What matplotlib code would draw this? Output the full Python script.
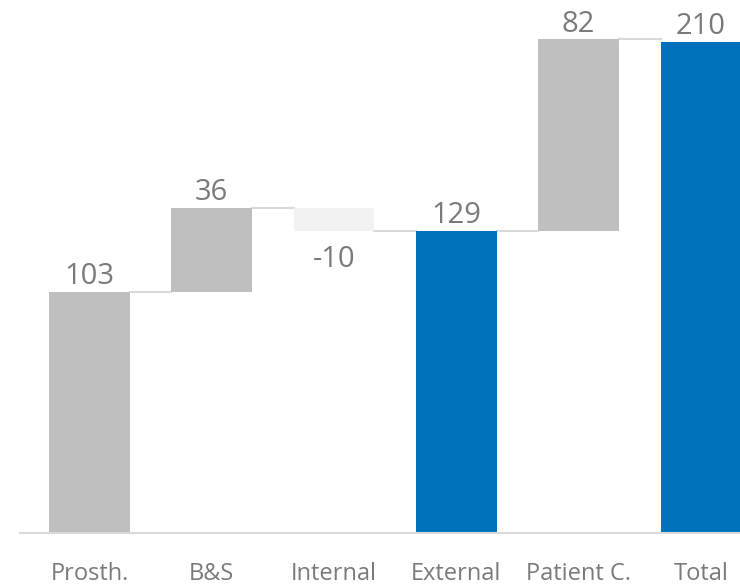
import matplotlib
matplotlib.use("Agg")
import matplotlib.pyplot as plt

plt.rcParams['font.family'] = ['Open Sans', 'DejaVu Sans']

# data
cats = ["Prosth.", "B&S", "Internal", "External", "Patient C.", "Total"]
values = [103, 36, -10, 129, 82, 210]
kinds = ["delta", "delta", "delta", "total", "delta", "total"]
labels = ["103", "36", "-10", "129", "82", "210"]

GRAY = "#bfbfbf"; LIGHT = "#f2f2f2"; BLUE = "#0072bc"; TXT = "#7a7a7a"; LINE = "#d9d9d9"

fig = plt.figure(figsize=(7.40, 5.88), dpi=100)
ax = fig.add_axes([20/740, 55/588, 720/740, 533/588])

W = 0.66
run = 0
tops = []
for i, (v, k) in enumerate(zip(values, kinds)):
    if k == "total":
        bottom, h = 0, v
        col = BLUE
        run = v
    else:
        bottom, h = (run, v) if v >= 0 else (run + v, -v)
        col = GRAY if v >= 0 else LIGHT
        run += v
    ax.bar(i, h, bottom=bottom, width=W, color=col, zorder=2)
    tops.append(run)
    if v >= 0:
        ax.text(i, bottom + h + 0.3, labels[i], ha="center", va="bottom", fontsize=21, color=TXT)
    else:
        ax.text(i, bottom - 6, labels[i], ha="center", va="top", fontsize=21, color=TXT)

# connectors
for i in range(len(values) - 1):
    ax.plot([i + W/2, i + 1 - W/2], [tops[i], tops[i]], color=LINE, lw=1.5, zorder=1)

ax.set_xlim(-0.568, 5.32)
ax.set_ylim(0, 227.8)
for s in ["top", "right", "left"]:
    ax.spines[s].set_visible(False)
ax.spines["bottom"].set_color(LINE)
ax.spines["bottom"].set_linewidth(1.5)
ax.set_yticks([])
ax.set_xticks(range(len(cats)))
ax.set_xticklabels(cats, fontsize=17, color=TXT)
ax.tick_params(axis="x", length=0, pad=21)

fig.savefig("out.png", dpi=100, facecolor="white")
